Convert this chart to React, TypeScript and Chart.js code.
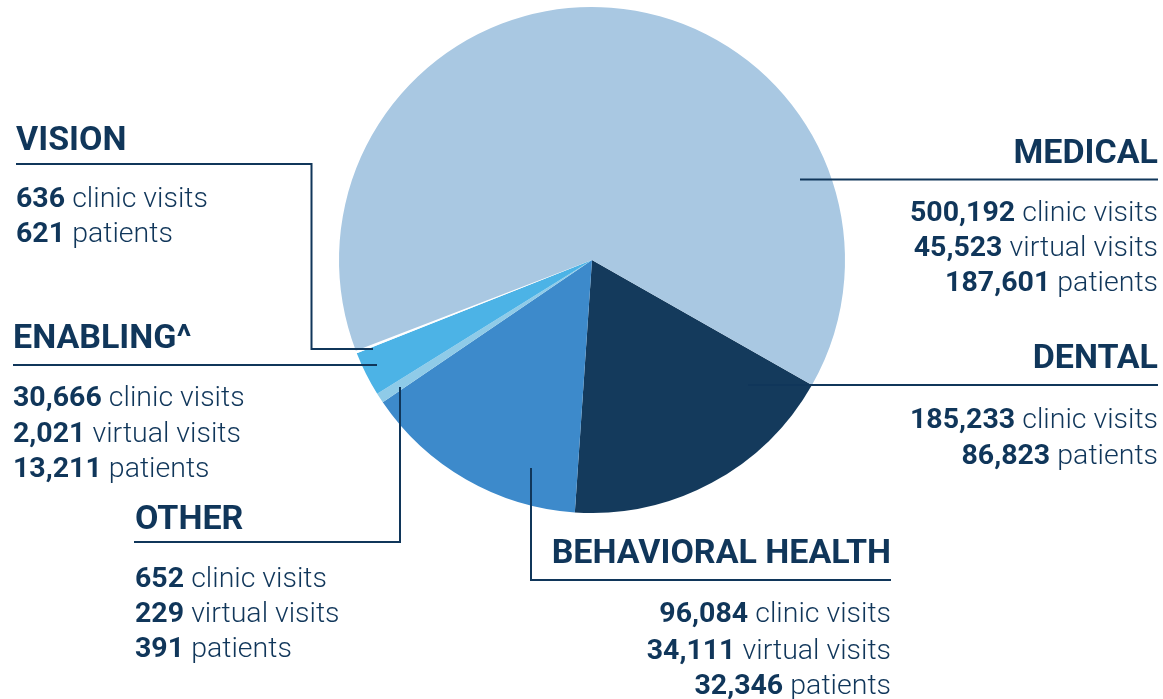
import React, { useEffect, useRef } from "react";
import { Chart, registerables } from "chart.js";

Chart.register(...registerables);

// Slice order (clockwise from the Dental/Medical boundary)
const categories = ["Dental", "Behavioral Health", "Other", "Enabling", "Vision", "Medical"];
const sliceShares = [17.86, 14.42, 0.64, 2.86, 0.17, 64.06];
const sliceColors = ["#143a5c", "#3d8acb", "#8fcbe8", "#4cb3e6", "#ffffff", "#a9c8e2"];

const medicalTitle = "MEDICAL";
const medicalNumbers = ["500,192", "45,523", "187,601"];
const medicalUnits = ["clinic visits", "virtual visits", "patients"];

const dentalTitle = "DENTAL";
const dentalNumbers = ["185,233", "86,823"];
const dentalUnits = ["clinic visits", "patients"];

const behavioralTitle = "BEHAVIORAL HEALTH";
const behavioralNumbers = ["96,084", "34,111", "32,346"];
const behavioralUnits = ["clinic visits", "virtual visits", "patients"];

const otherTitle = "OTHER";
const otherNumbers = ["652", "229", "391"];
const otherUnits = ["clinic visits", "virtual visits", "patients"];

const enablingTitle = "ENABLING^";
const enablingNumbers = ["30,666", "2,021", "13,211"];
const enablingUnits = ["clinic visits", "virtual visits", "patients"];

const visionTitle = "VISION";
const visionNumbers = ["636", "621"];
const visionUnits = ["clinic visits", "patients"];

const INK = "#10365a";
const W = 1163;
const H = 699;
const HEAD = 34;
const BODY = 28.5;
const FONT = "Roboto, 'Noto Sans', sans-serif";

const leaderLines: number[][][] = [
  [[16, 164], [311.5, 164], [311.5, 349], [373, 349]],
  [[13, 365], [377, 365]],
  [[134, 542], [400, 542], [400, 387]],
  [[531, 468], [531, 580], [891, 580]],
  [[800, 179.5], [1158, 179.5]],
  [[748, 385], [1158, 385]],
];

const leaderPlugin = {
  id: "leaders",
  afterDraw(chart: any) {
    const ctx = chart.ctx;
    ctx.save();
    ctx.strokeStyle = INK;
    ctx.lineWidth = 2;
    ctx.lineJoin = "miter";
    for (const pts of leaderLines) {
      ctx.beginPath();
      pts.forEach((p, i) => (i === 0 ? ctx.moveTo(p[0], p[1]) : ctx.lineTo(p[0], p[1])));
      ctx.stroke();
    }
    ctx.restore();
  },
};

type LabelProps = {
  x: number;
  align: "left" | "right";
  headBase: number;
  bodyBases: number[];
  title: string;
  numbers: string[];
  units: string[];
};

function Label({ x, align, headBase, bodyBases, title, numbers, units }: LabelProps) {
  const horiz: React.CSSProperties =
    align === "left" ? { left: x, textAlign: "left" } : { right: W - x, textAlign: "right" };
  return (
    <>
      <div
        style={{
          position: "absolute",
          ...horiz,
          top: headBase - 0.8415 * HEAD,
          fontSize: HEAD,
          lineHeight: `${HEAD}px`,
          fontWeight: 700,
          fontFamily: FONT,
          color: INK,
          whiteSpace: "nowrap",
        }}
      >
        {title}
      </div>
      {numbers.map((n, i) => (
        <div
          key={i}
          style={{
            position: "absolute",
            ...horiz,
            top: bodyBases[i] - 0.8415 * BODY,
            fontSize: BODY,
            lineHeight: `${BODY}px`,
            fontFamily: FONT,
            color: INK,
            whiteSpace: "nowrap",
          }}
        >
          <span style={{ fontWeight: 700 }}>{n}</span> <span style={{ fontWeight: 300 }}>{units[i]}</span>
        </div>
      ))}
    </>
  );
}

export default function App() {
  const ref = useRef<HTMLCanvasElement | null>(null);
  useEffect(() => {
    if (!ref.current) return;
    const chart = new Chart(ref.current, {
      type: "pie",
      data: {
        labels: categories,
        datasets: [
          {
            data: sliceShares,
            backgroundColor: sliceColors,
            borderWidth: 0,
          },
        ],
      },
      options: {
        responsive: false,
        animation: false,
        rotation: 119.6,
        layout: { padding: { left: 339, top: 7, right: W - 845, bottom: H - 513 } },
        plugins: { legend: { display: false }, tooltip: { enabled: false } },
      },
      plugins: [leaderPlugin],
    });
    return () => chart.destroy();
  }, []);

  return (
    <div style={{ position: "absolute", left: 0, top: 0, width: W, height: H, background: "#fff", overflow: "hidden" }}>
      <canvas ref={ref} width={W} height={H} style={{ position: "absolute", left: 0, top: 0 }} />
      <Label x={16} align="left" headBase={149.5} bodyBases={[208, 243]} title={visionTitle} numbers={visionNumbers} units={visionUnits} />
      <Label x={13} align="left" headBase={348} bodyBases={[407, 443, 478]} title={enablingTitle} numbers={enablingNumbers} units={enablingUnits} />
      <Label x={135} align="left" headBase={529} bodyBases={[588, 623, 658]} title={otherTitle} numbers={otherNumbers} units={otherUnits} />
      <Label x={891} align="right" headBase={563} bodyBases={[623, 660, 695]} title={behavioralTitle} numbers={behavioralNumbers} units={behavioralUnits} />
      <Label x={1158} align="right" headBase={162.5} bodyBases={[222, 257, 292]} title={medicalTitle} numbers={medicalNumbers} units={medicalUnits} />
      <Label x={1158} align="right" headBase={368} bodyBases={[429, 465]} title={dentalTitle} numbers={dentalNumbers} units={dentalUnits} />
    </div>
  );
}
